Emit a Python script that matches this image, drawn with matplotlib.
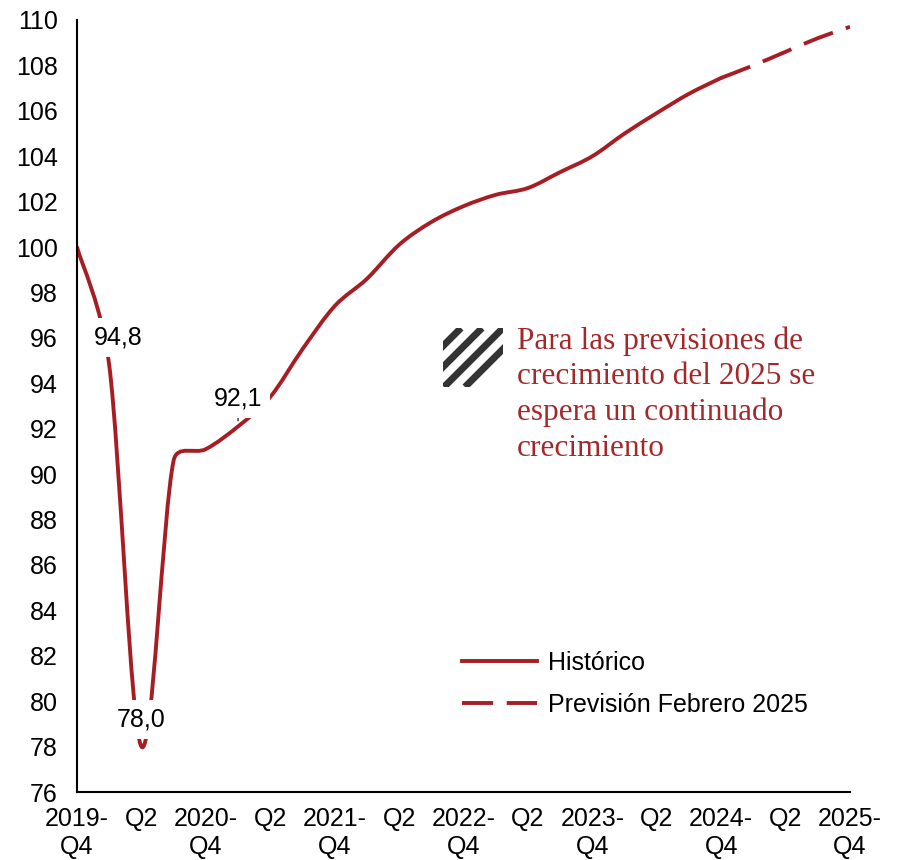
import matplotlib
matplotlib.use('Agg')
import matplotlib.pyplot as plt
from matplotlib.path import Path
from matplotlib.patches import PathPatch
from matplotlib.lines import Line2D
import numpy as np

plt.rcParams['font.family'] = ['Liberation Sans', 'DejaVu Sans']

# ---------------- data ----------------
quarters = list(range(25))  # 2019-Q4 ... 2025-Q4
historico = [100.0, 94.8, 78.0, 90.6, 91.1, 92.1, 93.4, 95.5, 97.4, 98.6,
             100.1, 101.1, 101.8, 102.3, 102.6, 103.3, 104.0, 105.0, 105.9,
             106.75, 107.45]
prevision = [107.45, 108.0, 108.6, 109.2, 109.7]
hist_x = quarters[:len(historico)]
prev_x = quarters[len(historico) - 1:]
tick_pos = quarters[::2]
tick_labels = ['2019-\nQ4', 'Q2', '2020-\nQ4', 'Q2', '2021-\nQ4', 'Q2',
               '2022-\nQ4', 'Q2', '2023-\nQ4', 'Q2', '2024-\nQ4', 'Q2',
               '2025-\nQ4']
y_ticks = list(range(76, 111, 2))
label_idx = [1, 2, 5]
label_txt = ['94,8', '78,0', '92,1']
series_names = ['Histórico', 'Previsión Febrero 2025']
note_lines = ['Para las previsiones de', 'crecimiento del 2025 se',
              'espera un continuado', 'crecimiento']

RED = '#A61E24'
TXT_RED = '#A3282A'
FS = 18

W, H = 898, 860
AX_L, AX_R, AX_T, AX_B = 77, 850, 20, 792
XLIM = (0, 24)
YLIM = (76, 110)
SX = (AX_R - AX_L) / (XLIM[1] - XLIM[0])   # px per quarter
SY = (AX_B - AX_T) / (YLIM[1] - YLIM[0])   # px per unit


def smooth_path(xs, ys):
    """Excel-style smoothed Bezier path through the data points."""
    P = np.column_stack([np.asarray(xs, float) * SX,
                         np.asarray(ys, float) * SY])
    n = len(P)
    verts = [P[0]]
    codes = [Path.MOVETO]
    for i in range(n - 1):
        p0 = P[i - 1] if i > 0 else P[i]
        p1 = P[i]
        p2 = P[i + 1]
        p3 = P[i + 2] if i + 2 < n else P[i + 1]
        d12 = np.linalg.norm(p2 - p1)
        t1 = p2 - p0
        t2 = p3 - p1
        f1 = 1 / 6
        f2 = 1 / 6
        n1 = np.linalg.norm(t1)
        n2 = np.linalg.norm(t2)
        if n1 * f1 > d12 / 2:
            f1 = d12 / 2 / n1
        if n2 * f2 > d12 / 2:
            f2 = d12 / 2 / n2
        c1 = p1 + t1 * f1
        c2 = p2 - t2 * f2
        verts += [c1, c2, p2]
        codes += [Path.CURVE4] * 3
    V = np.array(verts)
    V[:, 0] /= SX
    V[:, 1] /= SY
    return Path(V, codes)


fig = plt.figure(figsize=(W / 100, H / 100), dpi=100)
ax = fig.add_axes([AX_L / W, 1 - AX_B / H, (AX_R - AX_L) / W, (AX_B - AX_T) / H])

LW = 2.8
DASH = (0, (8, 3.5))
ax.add_patch(PathPatch(smooth_path(hist_x, historico), fc='none', ec=RED,
                       lw=LW, capstyle='round', joinstyle='round', zorder=2))
ax.add_patch(PathPatch(smooth_path(prev_x, prevision), fc='none', ec=RED,
                       lw=LW, linestyle=DASH, capstyle='butt', zorder=2))

ax.set_xlim(*XLIM)
ax.set_ylim(*YLIM)
ax.set_xticks(tick_pos)
ax.set_xticklabels(tick_labels, fontsize=FS, linespacing=1.18)
ax.set_yticks(y_ticks)
ax.set_yticklabels([str(v) for v in y_ticks], fontsize=FS)
ax.tick_params(axis='y', length=0, pad=14)
ax.tick_params(axis='x', length=0, pad=11)
for s in ['top', 'right']:
    ax.spines[s].set_visible(False)
for s in ['left', 'bottom']:
    ax.spines[s].set_linewidth(1.5)
    ax.spines[s].set_color('black')

# data labels
offsets = {1: (9, 28), 2: (0, 27), 5: (0, 28)}
for i, t in zip(label_idx, label_txt):
    kw = {}
    if i == 5:
        kw['arrowprops'] = dict(arrowstyle='-', color='black', lw=0.8,
                                shrinkA=0, shrinkB=4)
    ax.annotate(t, xy=(i, historico[i]), xytext=offsets[i],
                textcoords='offset pixels', ha='center', va='center',
                fontsize=FS, color='black', zorder=5,
                bbox=dict(boxstyle='square,pad=0.3', fc='white', ec='none'),
                **kw)

# legend
handles = [Line2D([], [], color=RED, lw=LW),
           Line2D([], [], color=RED, lw=LW, linestyle=DASH)]
leg = ax.legend(handles, series_names, loc='upper left',
                bbox_to_anchor=(462 / W, 1 - 651 / H),
                bbox_transform=fig.transFigure, frameon=False, fontsize=FS,
                handlelength=3.0, handletextpad=0.45, labelspacing=0.72,
                borderpad=0, borderaxespad=0)

# hatched icon
iax = fig.add_axes([443 / W, 1 - 387 / H, 60 / W, 59 / H])
iax.set_xlim(0, 60)
iax.set_ylim(0, 59)
iax.axis('off')
for xt in range(-3, 90, 21):
    iax.plot([xt - 59, xt], [0, 59], color='#333333', lw=5.0,
             solid_capstyle='butt')

# note text
for k, line in enumerate(note_lines):
    fig.text(517 / W, 1 - (349 + 35.5 * k) / H, line, fontsize=22.5,
             color=TXT_RED, family=['Liberation Serif', 'DejaVu Serif'],
             ha='left', va='baseline')

fig.savefig('out.png', dpi=100)
